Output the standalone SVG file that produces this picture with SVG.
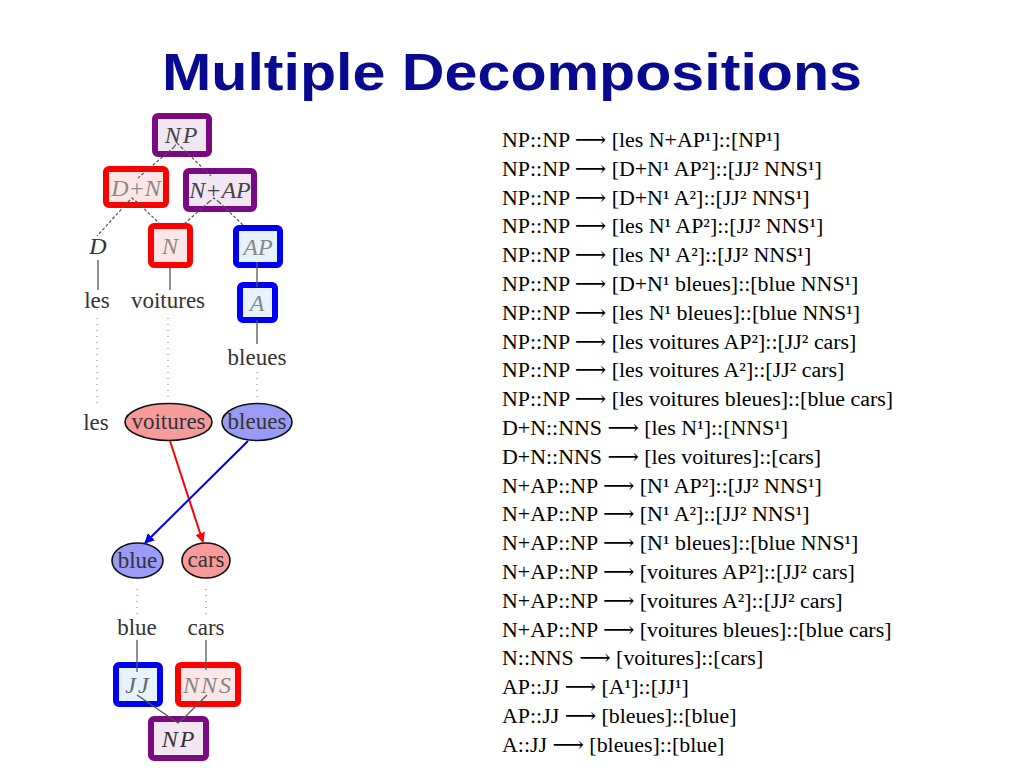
<svg xmlns="http://www.w3.org/2000/svg" width="1024" height="768" viewBox="0 0 1024 768">
<style>
.title{font-family:"Liberation Sans",Arial,sans-serif;font-weight:bold;font-size:52px;fill:#0a0a90}
.rule{font-family:"Liberation Serif","DejaVu Serif",serif;font-size:21.9px;fill:#000}
.box{stroke-width:6}
.pur{stroke:#7a0a82;fill:#f1e6f1}
.red{stroke:#ff0000;fill:#fde6e6}
.blu{stroke:#0000f0;fill:#e6f2fc}
.lab{font-family:"Liberation Serif","DejaVu Serif",serif;font-style:italic;font-size:24px;text-anchor:middle}
.word{font-family:"Liberation Serif","DejaVu Serif",serif;font-size:23px;fill:#333;text-anchor:middle}
.dash{stroke:#555;stroke-width:1.2;stroke-dasharray:3 2;fill:none}
.solid{stroke:#555;stroke-width:1.3;fill:none}
.dot{stroke:#999;stroke-width:1.3;stroke-dasharray:1 5;fill:none}
.ell{stroke:#111;stroke-width:1.6}
</style>
<defs>
<marker id="ar" viewBox="0 0 10 10" refX="9" refY="5" markerWidth="5" markerHeight="5" orient="auto"><path d="M0,0 L10,5 L0,10 z" fill="#ff0000"/></marker>
<marker id="ab" viewBox="0 0 10 10" refX="9" refY="5" markerWidth="5" markerHeight="5" orient="auto"><path d="M0,0 L10,5 L0,10 z" fill="#0000e0"/></marker>
</defs>
<rect width="1024" height="768" fill="#fff"/>
<text class="title" x="512" y="90" text-anchor="middle" textLength="700" lengthAdjust="spacingAndGlyphs">Multiple Decompositions</text>

<g id="rules" class="rule">
<text x="502" y="147">NP::NP ⟶ [les N+AP¹]::[NP¹]</text>
<text x="502" y="175.8">NP::NP ⟶ [D+N¹ AP²]::[JJ² NNS¹]</text>
<text x="502" y="204.6">NP::NP ⟶ [D+N¹ A²]::[JJ² NNS¹]</text>
<text x="502" y="233.4">NP::NP ⟶ [les N¹ AP²]::[JJ² NNS¹]</text>
<text x="502" y="262.2">NP::NP ⟶ [les N¹ A²]::[JJ² NNS¹]</text>
<text x="502" y="291">NP::NP ⟶ [D+N¹ bleues]::[blue NNS¹]</text>
<text x="502" y="319.8">NP::NP ⟶ [les N¹ bleues]::[blue NNS¹]</text>
<text x="502" y="348.6">NP::NP ⟶ [les voitures AP²]::[JJ² cars]</text>
<text x="502" y="377.4">NP::NP ⟶ [les voitures A²]::[JJ² cars]</text>
<text x="502" y="406.2">NP::NP ⟶ [les voitures bleues]::[blue cars]</text>
<text x="502" y="435">D+N::NNS ⟶ [les N¹]::[NNS¹]</text>
<text x="502" y="463.8">D+N::NNS ⟶ [les voitures]::[cars]</text>
<text x="502" y="492.6">N+AP::NP ⟶ [N¹ AP²]::[JJ² NNS¹]</text>
<text x="502" y="521.4">N+AP::NP ⟶ [N¹ A²]::[JJ² NNS¹]</text>
<text x="502" y="550.2">N+AP::NP ⟶ [N¹ bleues]::[blue NNS¹]</text>
<text x="502" y="579">N+AP::NP ⟶ [voitures AP²]::[JJ² cars]</text>
<text x="502" y="607.8">N+AP::NP ⟶ [voitures A²]::[JJ² cars]</text>
<text x="502" y="636.6">N+AP::NP ⟶ [voitures bleues]::[blue cars]</text>
<text x="502" y="665.4">N::NNS ⟶ [voitures]::[cars]</text>
<text x="502" y="694.2">AP::JJ ⟶ [A¹]::[JJ¹]</text>
<text x="502" y="723">AP::JJ ⟶ [bleues]::[blue]</text>
<text x="502" y="751.8">A::JJ ⟶ [bleues]::[blue]</text>
</g>

<g id="n-np-top"><rect class="box pur" x="155" y="116" width="54" height="38" rx="3"/><text class="lab" x="182" y="143" fill="#444" letter-spacing="2">NP</text></g>
<g id="n-dn"><rect class="box red" x="106" y="169" width="60" height="36" rx="3"/><text class="lab" x="136" y="196" fill="#888">D+N</text></g>
<g id="n-nap"><rect class="box pur" x="186" y="171" width="68" height="38" rx="3"/><text class="lab" x="220" y="198" fill="#444">N+AP</text></g>
<g id="n-d"><text class="lab" x="98" y="254" fill="#333">D</text></g>
<g id="n-n"><rect class="box red" x="151" y="226" width="39" height="39" rx="3"/><text class="lab" x="170" y="254" fill="#888">N</text></g>
<g id="n-ap"><rect class="box blu" x="236" y="228" width="44" height="37" rx="3"/><text class="lab" x="258" y="255" fill="#888">AP</text></g>
<g id="n-a"><rect class="box blu" x="240" y="285" width="35" height="35" rx="3"/><text class="lab" x="257" y="311" fill="#888">A</text></g>
<g id="n-les1"><text class="word" x="97" y="308">les</text></g>
<g id="n-voitures1"><text class="word" x="168" y="308">voitures</text></g>
<g id="n-bleues1"><text class="word" x="257" y="365">bleues</text></g>
<g id="n-les2"><text class="word" x="96" y="430">les</text></g>
<g id="n-voitures2"><ellipse class="ell" cx="168.5" cy="422" rx="43.5" ry="18.5" fill="#f79a9a"/><text class="word" x="168.5" y="429" fill="#4a1a1a">voitures</text></g>
<g id="n-bleues2"><ellipse class="ell" cx="257" cy="422" rx="35" ry="18.5" fill="#9a9af7"/><text class="word" x="257" y="429" fill="#1a1a6a">bleues</text></g>
<g id="n-blue2"><ellipse class="ell" cx="137.5" cy="560.5" rx="25.5" ry="17.5" fill="#9a9af7"/><text class="word" x="137.5" y="568" fill="#1a1a6a">blue</text></g>
<g id="n-cars2"><ellipse class="ell" cx="206" cy="560.5" rx="24" ry="17.5" fill="#f79a9a"/><text class="word" x="206" y="567" fill="#4a1a1a">cars</text></g>
<g id="n-blue1"><text class="word" x="137" y="635">blue</text></g>
<g id="n-cars1"><text class="word" x="206" y="635">cars</text></g>
<g id="n-jj"><rect class="box blu" x="116" y="665" width="44" height="39" rx="3"/><text class="lab" x="138" y="693" fill="#666" letter-spacing="2">JJ</text></g>
<g id="n-nns"><rect class="box red" x="178" y="665" width="60" height="39" rx="3"/><text class="lab" x="208" y="693" fill="#888" letter-spacing="2">NNS</text></g>
<g id="n-np-bot"><rect class="box pur" x="151" y="719" width="55" height="39" rx="3"/><text class="lab" x="179" y="747" fill="#333" letter-spacing="2">NP</text></g>

<g id="connectors">
<path class="dash" d="M174,147 L177,143 L181,147 M174,147 L138,178 M181,147 L211,176"/>
<path class="dash" d="M128,202 L132,198 L137,202 M128,202 L97,236 M137,202 L160,224"/>
<path class="dash" d="M209,202 L214,198 L219,202 M209,202 L184,224 M219,202 L243,225"/>
<path class="solid" d="M98,260 L98,290"/>
<path class="solid" d="M170,268 L170,290"/>
<path class="solid" d="M257,262 L257,287"/>
<path class="solid" d="M257,320 L257,344"/>
<path class="dot" d="M97,318 L97,408 M168,318 L168,402 M257,372 L257,402"/>
<path d="M170,441 L203,542" stroke="#ff0000" stroke-width="2" fill="none" marker-end="url(#ar)"/>
<path d="M248,441 L145,543" stroke="#0000e0" stroke-width="2" fill="none" marker-end="url(#ab)"/>
<path class="dot" d="M137,589 L137,614 M206,589 L206,614"/>
<path class="solid" d="M137,640 L137,672"/>
<path class="solid" d="M206,640 L206,670"/>
<path class="solid" d="M137,695 L178,723 L186,716 L207,695"/>
</g>
</svg>
